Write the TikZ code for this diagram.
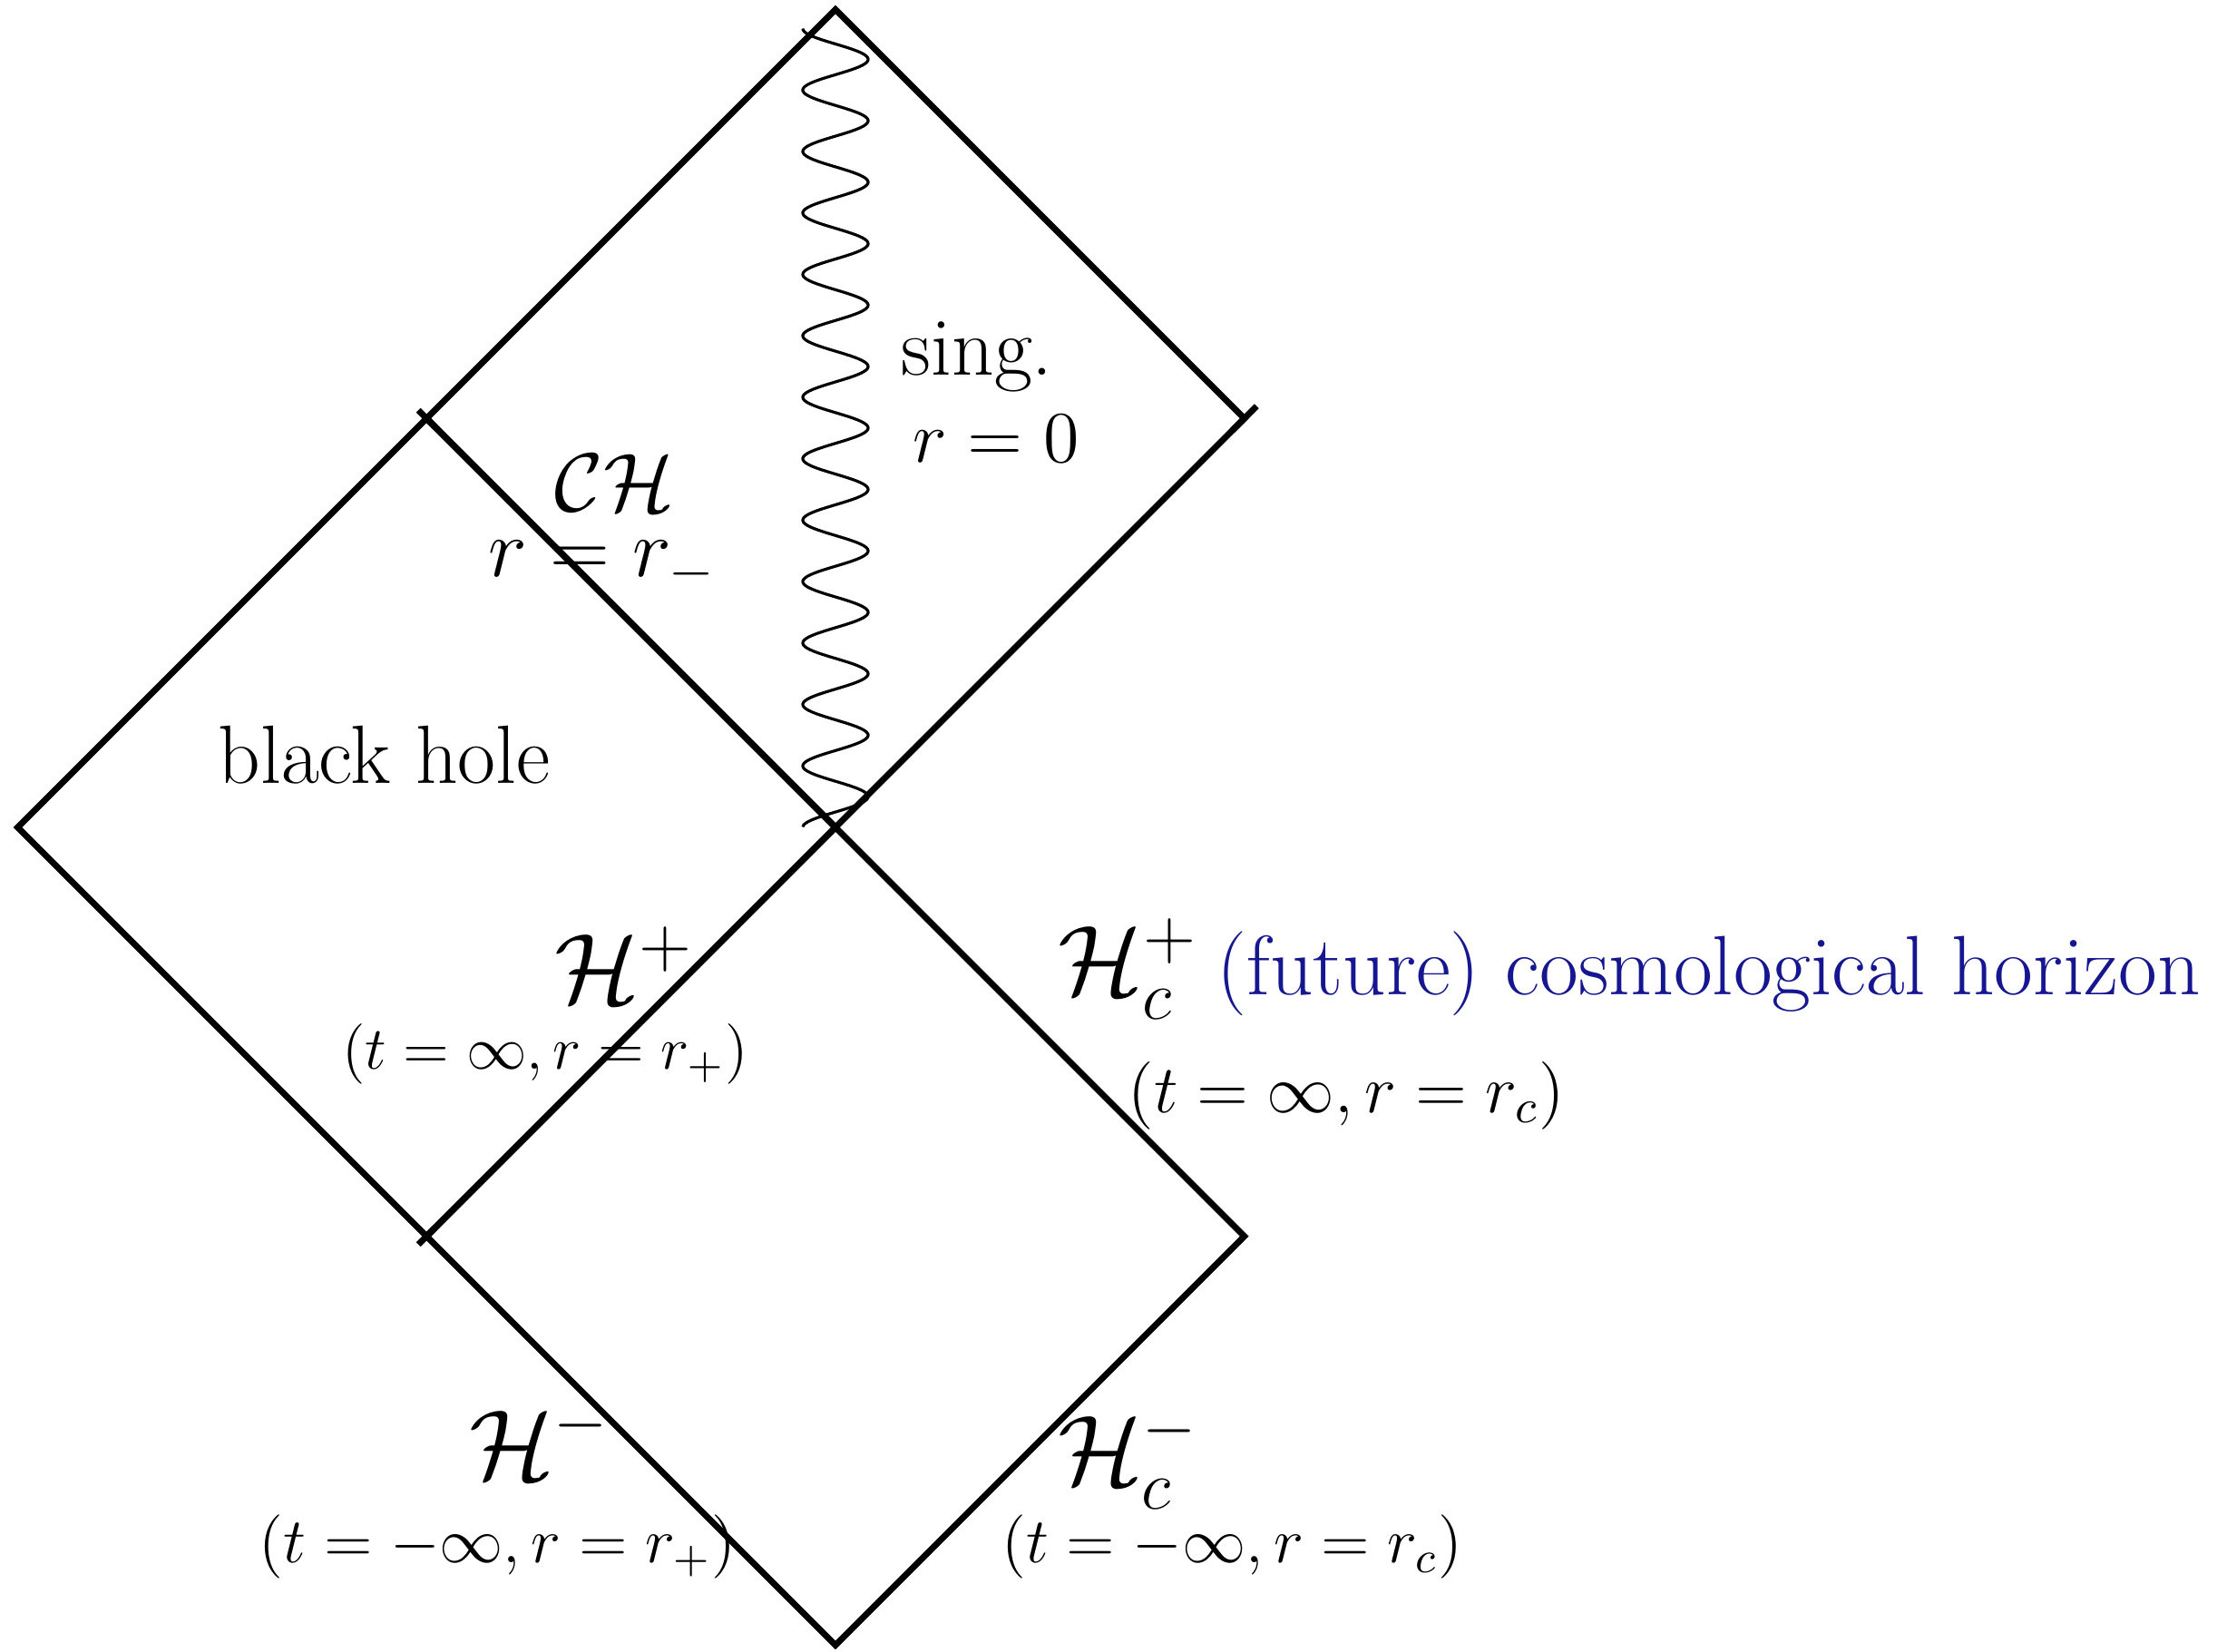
\RequirePackage{fix-cm}
\documentclass[tikz,border=0pt]{standalone}
\usepackage{amsmath,amssymb}
\usepackage{xcolor}
\definecolor{bluorizz}{RGB}{22,22,145}
\tikzset{
  bordo/.style={line width=1.3pt},
  singolarita/.style={line width=0.6pt},
  orizz/.style={font=\huge, inner sep=0.5pt},
  coordorizz/.style={font=\fontsize{#1}{#1}\selectfont, inner sep=0.5pt}
}

\begin{document}
\begin{tikzpicture}[every node/.style={font=\LARGE}]
  \useasboundingbox (-6.13,-6.05) rectangle (10.21,6.07);

  % --- vertici del diagramma -------------------------------------------------
  \coordinate (O)  at (0,0);
  \coordinate (N)  at (0,6);
  \coordinate (NE) at (3,3);
  \coordinate (NW) at (-3,3);
  \coordinate (W)  at (-6,0);
  \coordinate (SW) at (-3,-3);
  \coordinate (SE) at (3,-3);
  \coordinate (S)  at (0,-6);

  % --- i tre rombi ------------------------------------------------------------
  \draw[bordo] (N) -- (NE) -- (O) -- (NW) -- cycle;
  \draw[bordo] (NW) -- (O) -- (SW) -- (W) -- cycle;
  \draw[bordo] (O) -- (SE) -- (S) -- (SW) -- cycle;

  % tacche sui vertici
  \foreach \p/\dx/\dy in {NE/0.09/0.09, NW/-0.06/0.06, SW/-0.06/-0.06} {
    \draw[bordo] ([shift={(-\dx,-\dy)}]\p) -- ([shift={(\dx,\dy)}]\p);
  }

  % --- singolarita' r = 0 -----------------------------------------------------
  \draw[singolarita] plot[domain=0:1, samples=500]
    ({-0.24*cos(13*360*\x)}, {5.86-5.86*\x});

  % --- etichette --------------------------------------------------------------
  \node (sing)  at (1.04,3.45)  {sing.};
  \node[coordorizz=15.2, inner sep=3pt] (rzero) at (1.18,2.85) {$r=0$};
  \node (CH)    at (-1.62,2.53) {$\mathcal{CH}$};
  \node (rmeno) at (-1.71,1.91) {$r=r_-$};
  \node (bh)    at (-3.31,0.53) {black hole};

  \node[orizz] (Hp)  at (-1.55,-1.01) {$\mathcal{H}^+$};
  \node[coordorizz=12.6] (Hpcoord) at (-2.13,-1.66) {$(t=\infty, r=r_+)$};
  \node[orizz] (Hcp) at (2.15,-1.04) {$\mathcal{H}^+_c$};
  \node[anchor=base west, inner sep=0pt, text=bluorizz,
        font=\fontsize{17.6}{17.6}\selectfont] (futuro)
    at ([xshift=3pt]Hcp.base east) {(future) cosmological horizon};
  \node[coordorizz=14.15] (Hcpcoord) at (3.75,-1.97) {$(t=\infty, r=r_c)$};

  \node[orizz] (Hm)  at (-2.17,-4.50) {$\mathcal{H}^-$};
  \node[coordorizz=13.3] (Hmcoord) at (-2.48,-5.28) {$(t=-\infty, r=r_+)$};
  \node[orizz] (Hcm) at (2.15,-4.63) {$\mathcal{H}^-_c$};
  \node[coordorizz=13.3] (Hcmcoord) at (2.91,-5.28) {$(t=-\infty, r=r_c)$};

\end{tikzpicture}
\end{document}
